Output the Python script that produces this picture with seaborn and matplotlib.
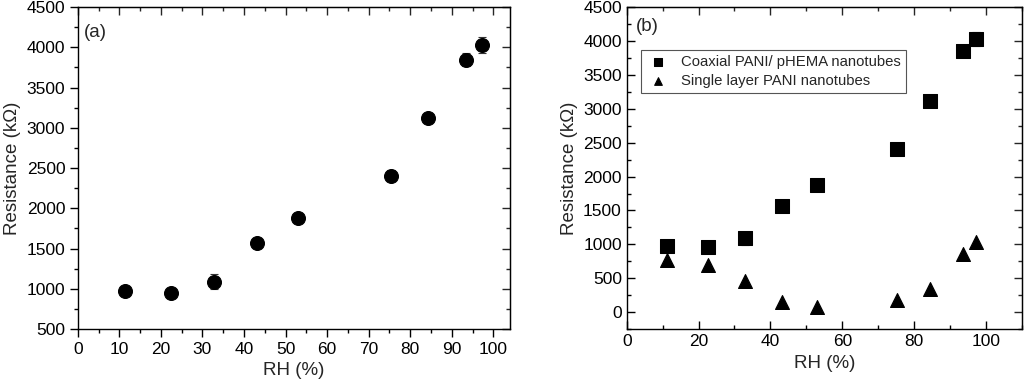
import numpy as np
import pandas as pd
import matplotlib
matplotlib.use("Agg")
import matplotlib.pyplot as plt
from matplotlib.ticker import MultipleLocator
import seaborn as sns

rh = [11.3, 22.5, 32.8, 43.2, 52.9, 75.3, 84.3, 93.5, 97.3]
r_coax = [975, 955, 1090, 1565, 1875, 2405, 3120, 3845, 4030]
err_coax = [25, 25, 95, 35, 30, 70, 50, 80, 100]
r_single = [770, 700, 460, 150, 80, 185, 340, 860, 1030]
err_single_lo = [90, 90, 90, 90, 90, 90, 90, 90, 90]
err_single_hi = [20, 20, 20, 20, 20, 20, 20, 20, 20]

label_coax = "Coaxial PANI/ pHEMA nanotubes"
label_single = "Single layer PANI nanotubes"

df = pd.DataFrame({"RH": rh, "coax": r_coax, "single": r_single})

sns.set_style("ticks")
plt.rcParams['font.family'] = ['Liberation Sans', 'DejaVu Sans']
plt.rcParams['font.size'] = 12.5

fig = plt.figure(figsize=(10.24, 3.9), dpi=100)
ax1 = fig.add_axes([0.076, 0.156, 0.422, 0.826])
ax2 = fig.add_axes([0.612, 0.156, 0.386, 0.826])


def style_axis(ax, main_dir, xmaj, xmin, ymaj, ymin):
    for s in ax.spines.values():
        s.set_linewidth(1.0)
        s.set_color("black")
        s.set_visible(True)
    ax.xaxis.set_major_locator(MultipleLocator(xmaj))
    ax.xaxis.set_minor_locator(MultipleLocator(xmin))
    ax.yaxis.set_major_locator(MultipleLocator(ymaj))
    ax.yaxis.set_minor_locator(MultipleLocator(ymin))
    ax.tick_params(which="both", direction=main_dir, top=False, right=False, colors="black", labelsize=12.5)
    ax.tick_params(which="major", length=5.5, width=1)
    ax.tick_params(which="minor", length=3, width=1)
    sec_x = ax.secondary_xaxis("top")
    sec_y = ax.secondary_yaxis("right")
    sec_x.xaxis.set_major_locator(MultipleLocator(xmaj))
    sec_x.xaxis.set_minor_locator(MultipleLocator(xmin))
    sec_y.yaxis.set_major_locator(MultipleLocator(ymaj))
    sec_y.yaxis.set_minor_locator(MultipleLocator(ymin))
    for sec in (sec_x, sec_y):
        sec.tick_params(which="both", direction="in")
        sec.tick_params(which="major", length=5.5, width=1)
        sec.tick_params(which="minor", length=3, width=1)
    sec_x.set_xticklabels([])
    sec_y.set_yticklabels([])


# panel (a)
ax1.errorbar(rh, r_coax, yerr=err_coax, fmt="none", ecolor="#333333", elinewidth=0.8, capsize=3, capthick=0.8)
sns.scatterplot(data=df, x="RH", y="coax", ax=ax1, marker="o", s=100, color="black", edgecolor="black", zorder=3)
ax1.set_xlim(0, 104)
ax1.set_ylim(500, 4500)
style_axis(ax1, "out", 10, 5, 500, 250)
ax1.set_xlabel("RH (%)", fontsize=13.5)
ax1.set_ylabel("Resistance (kΩ)", fontsize=13.5)
ax1.text(0.014, 0.92, "(a)", transform=ax1.transAxes, fontsize=13.5, va="center")

# panel (b)
ax2.errorbar(rh, r_coax, yerr=err_coax, fmt="none", ecolor="#333333", elinewidth=0.8, capsize=3, capthick=0.8)
ax2.errorbar(rh, r_single, yerr=[err_single_lo, err_single_hi], fmt="none", ecolor="#333333",
             elinewidth=0.8, capsize=0)
sns.scatterplot(data=df, x="RH", y="coax", ax=ax2, marker="s", s=90, color="black", edgecolor="black",
                zorder=3, label=label_coax)
sns.scatterplot(data=df, x="RH", y="single", ax=ax2, marker="^", s=100, color="black", edgecolor="black",
                zorder=3, label=label_single)
ax2.set_xlim(0, 110)
ax2.set_ylim(-250, 4500)
style_axis(ax2, "in", 20, 10, 500, 250)
ax2.set_xlabel("RH (%)", fontsize=13.5)
ax2.set_ylabel("Resistance (kΩ)", fontsize=13.5)
ax2.text(0.023, 0.94, "(b)", transform=ax2.transAxes, fontsize=13.5, va="center")
leg = ax2.legend(loc="upper left", bbox_to_anchor=(0.035, 0.866), borderaxespad=0, frameon=True,
                 fancybox=False, edgecolor="#555555", fontsize=10.7, markerscale=0.55, handletextpad=0.8,
                 borderpad=0.35, labelspacing=0.3, handlelength=1.6, framealpha=1)
leg.get_frame().set_linewidth(0.8)
leg.set_zorder(10)

fig.savefig("out.png", dpi=100)
